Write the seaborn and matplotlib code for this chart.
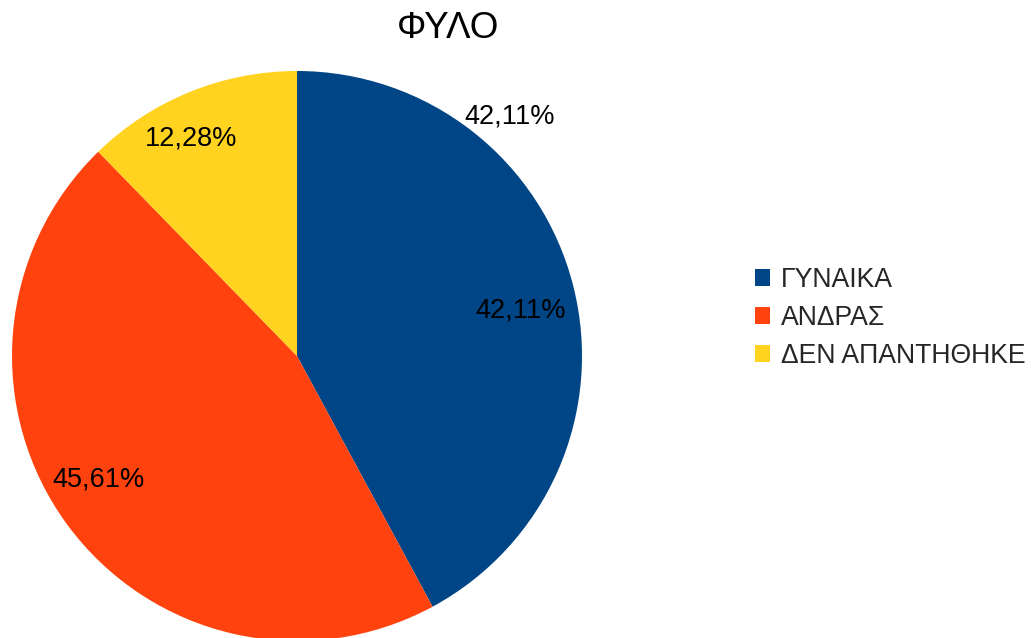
import numpy as np
import matplotlib
matplotlib.use("Agg")
import matplotlib.pyplot as plt
import seaborn as sns
from matplotlib.patches import Patch

categories = ["ΓΥΝΑΙΚΑ", "ΑΝΔΡΑΣ", "ΔΕΝ ΑΠΑΝΤΗΘΗΚΕ"]
values = [42.11, 45.61, 12.28]
colors = ["#004586", "#ff420e", "#ffd320"]
title = "ΦΥΛΟ"

sns.set_theme(style="white")
plt.rcParams["font.family"] = ["Liberation Sans", "DejaVu Sans"]

W, H = 1031, 638
fig = plt.figure(figsize=(W / 100, H / 100), dpi=100)
cx, cy, R = 297, 356, 285
ax = fig.add_axes([(cx - R) / W, (H - cy - R) / H, 2 * R / W, 2 * R / H])

palette = sns.color_palette(colors)
fmt = lambda p: f"{p:.2f}%".replace(".", ",")
wedges, _ = ax.pie(
    values, colors=palette, startangle=90, counterclock=False, radius=1.0,
    wedgeprops=dict(linewidth=0, edgecolor="none"),
)
ax.set_xlim(-1, 1)
ax.set_ylim(-1, 1)
ax.set_axis_off()

# label placement (angle shift in degrees from wedge middle, radial distance)
label_shift = [-2.6, -4.3, 3.9]
label_dist = [0.80, 0.82, 0.85]
fs = 19.5
for w, v, s, d in zip(wedges, values, label_shift, label_dist):
    a = np.deg2rad((w.theta1 + w.theta2) / 2 + s)
    ax.text(d * np.cos(a), d * np.sin(a), fmt(v), ha="center", va="center",
            fontsize=fs, color="black")

# extra duplicate label outside the first slice (as in the reference)
a = np.deg2rad(48.3)
ax.text(1.124 * np.cos(a), 1.124 * np.sin(a), fmt(values[0]),
        ha="center", va="center", fontsize=fs, color="black", clip_on=False)

fig.text(448 / W, 1 - 28 / H, title, ha="center", va="center", fontsize=26.5, color="black")

handles = [Patch(facecolor=c, edgecolor="none") for c in palette]
fig.legend(handles, categories, loc="center left",
           bbox_to_anchor=(755 / W, 1 - 318 / H), frameon=False,
           fontsize=19.2, handlelength=0.57, handleheight=0.57,
           handletextpad=0.4, labelspacing=0.45, borderpad=0, borderaxespad=0)

fig.savefig("out.png", dpi=100)
